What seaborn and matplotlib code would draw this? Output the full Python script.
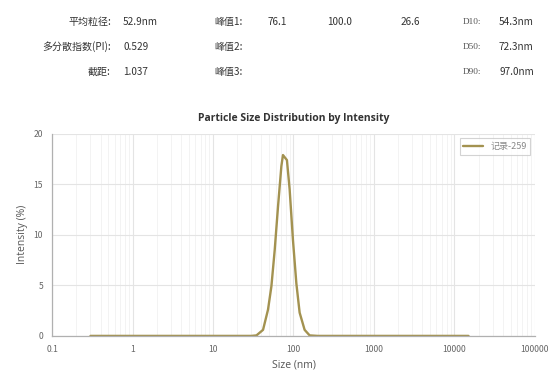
import numpy as np
import pandas as pd
import matplotlib
matplotlib.use("Agg")
import matplotlib.pyplot as plt
import matplotlib.ticker as mticker
import seaborn as sns

# size (nm) vs intensity (%)
size_nm = [0.3, 1.0, 10.0, 30.0, 34.7, 41.9, 48.3, 53.2, 58.5, 64.3, 70.8, 74.1,
           83.0, 89.7, 98.6, 108.7, 119.4, 137.7, 158.9, 200.0, 1000.0, 15000.0]
intensity = [0.0, 0.0, 0.0, 0.0, 0.05, 0.6, 2.6, 4.9, 8.5, 12.8, 16.8, 17.9,
             17.4, 14.5, 9.5, 5.2, 2.3, 0.6, 0.05, 0.0, 0.0, 0.0]
series_name = "记录-259"
x_ticks = [0.1, 1, 10, 100, 1000, 10000, 100000]
x_tick_labels = ["0.1", "1", "10", "100", "1000", "10000", "100000"]

# summary table at the top
left_labels = ["平均粒径:", "多分散指数(PI):", "截距:"]
left_values = ["52.9nm", "0.529", "1.037"]
peak_labels = ["峰值1:", "峰值2:", "峰值3:"]
peak1_values = ["76.1", "100.0", "26.6"]
d_labels = ["D10:", "D50:", "D90:"]
d_values = ["54.3nm", "72.3nm", "97.0nm"]

df = pd.DataFrame({"size": size_nm, "intensity": intensity, "series": series_name})

sns.set_style("white")
plt.rcParams["font.family"] = ["Noto Sans CJK SC", "DejaVu Sans"]

fig = plt.figure(figsize=(5.6, 3.77), dpi=100)
ax = fig.add_axes([0.093, 0.109, 0.862, 0.536])

line_color = "#a39250"
sns.lineplot(data=df, x="size", y="intensity", hue="series", palette=[line_color],
             linewidth=1.7, ax=ax)

ax.set_xscale("log")
ax.set_xlim(0.1, 100000)
ax.set_ylim(0, 20)
ax.set_yticks([0, 5, 10, 15, 20])
ax.set_xticks(x_ticks, x_tick_labels)
minor = [m * 10.0 ** e for e in range(-1, 5) for m in range(2, 10)]
ax.set_xticks(minor, minor=True)
ax.xaxis.set_minor_formatter(mticker.NullFormatter())

ax.grid(True, which="major", color="#e4e4e4", linewidth=0.8)
ax.grid(True, which="minor", axis="x", color="#f1f1f1", linewidth=0.6)
for s in ["top", "right"]:
    ax.spines[s].set_visible(False)
for s in ["left", "bottom"]:
    ax.spines[s].set_color("#b0b0b0")
    ax.spines[s].set_linewidth(0.9)
ax.tick_params(axis="both", which="major", labelsize=6.2, colors="#b0b0b0",
               labelcolor="#666666", length=3, width=0.8)
ax.tick_params(axis="x", which="minor", length=1.5, colors="#b0b0b0")

ax.set_xlabel("Size (nm)", fontsize=7.5, color="#555555", family=["Open Sans"])
ax.set_ylabel("Intensity (%)", fontsize=7.5, color="#555555", family=["Open Sans"])
ax.set_title("Particle Size Distribution by Intensity", fontsize=7.5,
             fontweight="bold", color="#333333", pad=9, family=["Open Sans"])

leg = ax.legend(loc="upper right", fontsize=6.5, frameon=True, fancybox=False,
                handlelength=2.2, borderpad=0.4, labelcolor="#888888")
leg.get_frame().set_edgecolor("#c8c8c8")
leg.get_frame().set_linewidth(0.8)

# summary text block
rows_y = [22, 47, 72]
fs = 7.2
for i, y in enumerate(rows_y):
    fy = 1 - y / 377
    fig.text(111 / 560, fy, left_labels[i], ha="right", va="center", fontsize=fs, color="#333333")
    fig.text(123 / 560, fy, left_values[i], ha="left", va="center", fontsize=fs, color="#333333")
    fig.text(214 / 560, fy, peak_labels[i], ha="left", va="center", fontsize=fs, color="#333333")
    fig.text(463 / 560, fy, d_labels[i], ha="left", va="center", fontsize=fs - 0.5,
             color="#555555", family=["Liberation Serif"])
    fig.text(499 / 560, fy, d_values[i], ha="left", va="center", fontsize=fs, color="#333333")
for x, v in zip([268, 327, 401], peak1_values):
    fig.text(x / 560, 1 - rows_y[0] / 377, v, ha="left", va="center", fontsize=fs, color="#333333")

fig.savefig("out.png", dpi=100)
